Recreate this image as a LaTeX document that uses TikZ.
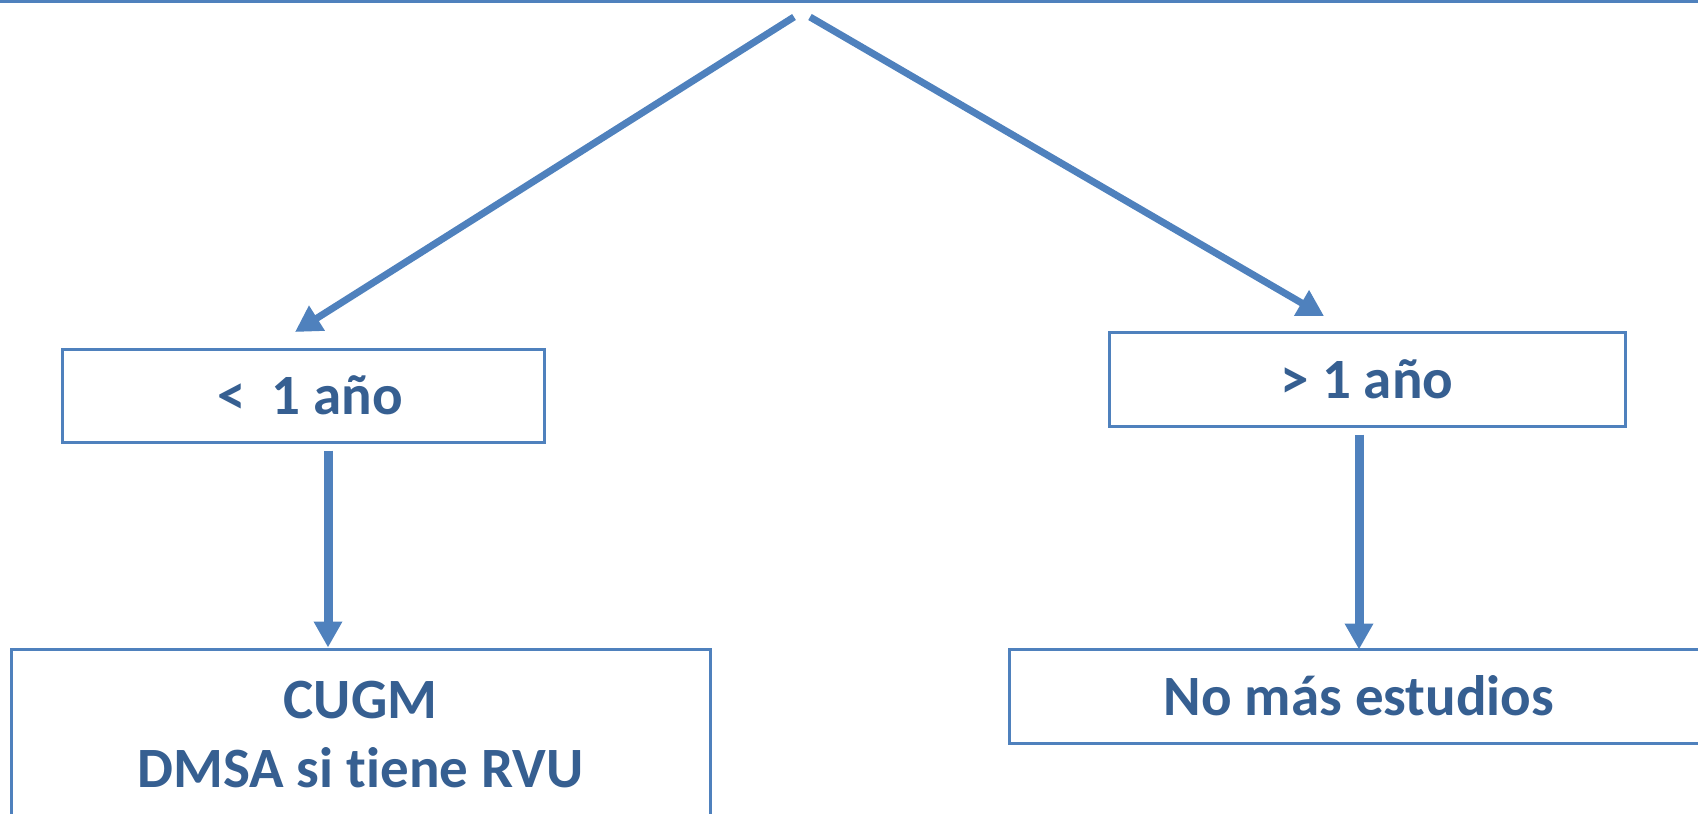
\documentclass[tikz,border=0pt]{standalone}
\usepackage{fontspec}
\setmainfont{Carlito}[Ligatures=NoCommon]
\usetikzlibrary{arrows.meta}
\definecolor{lineblue}{HTML}{4F81BD}
\definecolor{textblue}{HTML}{365F91}
\tikzset{
  box/.style={draw=lineblue, line width=1.5pt, fill=white, inner sep=0pt,
              font=\fontsize{28.5}{34.5}\selectfont\bfseries, text=textblue, align=center},
  diagarrow/.style={draw=lineblue, line width=3.5pt, -{Triangle[length=13pt,width=14pt]}},
  vertarrow/.style={draw=lineblue, line width=4.5pt, -{Triangle[length=13pt,width=13.5pt]}}
}
\begin{document}
\begin{tikzpicture}[x=0.5pt,y=-0.5pt]
  \useasboundingbox (0,0) rectangle (1698,814);
  \clip (0,0) rectangle (1698,814);

  % upper box, only its lower edge shows
  \node[box, minimum width=860pt, minimum height=50.5pt] (box0) at (849,-49) {};

  % the two branches
  \node[box, minimum width=241pt, minimum height=46.5pt] (box1) at (303,395.5) {\hspace*{7pt}<\ \ 1 año};
  \node[box, minimum width=258pt, minimum height=47pt] (box2) at (1367,379) {> 1 año};

  % outcomes
  \node[box, minimum width=349.5pt, minimum height=86pt] (box3) at (360.5,735) {CUGM\\DMSA si tiene RVU};
  \node[box, minimum width=350pt, minimum height=47pt] (box4) at (1359,696) {No más estudios};

  % start and end points of the diagonal arrows
  \coordinate (s1) at (794,17);
  \coordinate (e1) at (295,332);
  \coordinate (s2) at (810,17);
  \coordinate (e2) at (1324,316);
  \coordinate (v1) at (328,0);
  \coordinate (v2) at (1359,0);

  \draw[diagarrow] (s1) -- (e1);
  \draw[diagarrow] (s2) -- (e2);

  \draw[vertarrow] ([yshift=-3.5pt]box1.south -| v1) -- (box3.north -| v1);
  \draw[vertarrow] ([yshift=-3.5pt]box2.south -| v2) -- ([yshift=-1pt]box4.north -| v2);
\end{tikzpicture}
\end{document}
